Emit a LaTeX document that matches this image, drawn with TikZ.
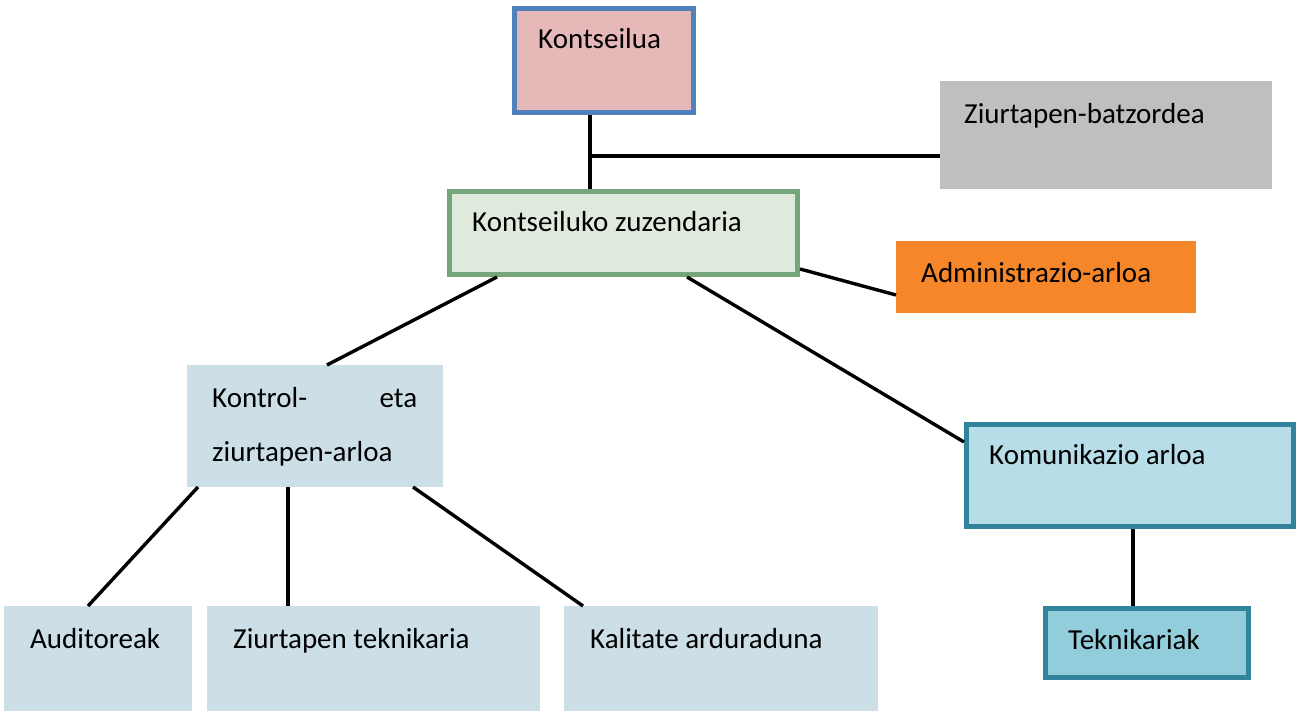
\documentclass[tikz,border=0pt]{standalone}
\usepackage{fontspec}
\setmainfont{Carlito}
\usetikzlibrary{calc}
\definecolor{konsfill}{HTML}{E6B9B8}
\definecolor{konsline}{HTML}{4F81BD}
\definecolor{zuzfill}{HTML}{DFEADC}
\definecolor{zuzline}{HTML}{77A57A}
\definecolor{grayfill}{HTML}{BFBFBF}
\definecolor{orangefill}{HTML}{F5872A}
\definecolor{paleblue}{HTML}{CCDFE6}
\definecolor{komfill}{HTML}{B7DDE8}
\definecolor{tekfill}{HTML}{92CDDC}
\definecolor{tealline}{HTML}{31849B}
\begin{document}
\begin{tikzpicture}[x=1pt,y=-1pt,
  box/.style={rectangle, inner sep=0pt, outer sep=0pt, anchor=north west},
  bbox/.style={rectangle, inner sep=0pt, outer sep=2.5pt, line width=5pt, anchor=north west},
  txt/.style={anchor=base west, inner sep=0pt, font=\fontsize{29}{35}\selectfont},
  conn/.style={line width=3.4pt, black}]
\useasboundingbox (0,0) rectangle (1296,711);
% boxes
\node[bbox, draw=konsline, fill=konsfill, minimum width=179pt, minimum height=104pt] (kons) at (512,6) {};
\node[box, fill=grayfill, minimum width=332pt, minimum height=108pt] (zb) at (940,81) {};
\node[bbox, draw=zuzline, fill=zuzfill, minimum width=348pt, minimum height=83pt] (zuz) at (447,189) {};
\node[box, fill=orangefill, minimum width=300pt, minimum height=72pt] (adm) at (896,241) {};
\node[box, fill=paleblue, minimum width=256pt, minimum height=122pt] (kc) at (187,365) {};
\node[bbox, draw=tealline, fill=komfill, minimum width=327pt, minimum height=102pt] (kom) at (964,422) {};
\node[bbox, draw=tealline, fill=tekfill, minimum width=203pt, minimum height=69pt] (tek) at (1043,606) {};
\node[box, fill=paleblue, minimum width=188pt, minimum height=105pt] (aud) at (4,606) {};
\node[box, fill=paleblue, minimum width=333pt, minimum height=105pt] (zt) at (207,606) {};
\node[box, fill=paleblue, minimum width=314pt, minimum height=105pt] (kal) at (564,606) {};
% texts
\node[txt] (tkons) at (538,49) {Kontseilua};
\node[txt] (tzb) at (964,124) {Ziurtapen-batzordea};
\node[txt] (tzuz) at (472,232) {Kontseiluko zuzendaria};
\node[txt] (tadm) at (921,283) {Administrazio-arloa};
\node[txt] (tkc1) at (212,407) {\hbox to 205pt{Kontrol-\hfill eta}};
\node[txt] (tkc2) at (212,461) {ziurtapen-arloa};
\node[txt] (tkom) at (989,464) {Komunikazio arloa};
\node[txt] (ttek) at (1068,649) {Teknikariak};
\node[txt] (taud) at (30,648) {Auditoreak};
\node[txt] (tzt) at (233,648) {Ziurtapen teknikaria};
\node[txt] (tkal) at (590,648) {Kalitate arduraduna};
% connectors
\coordinate (j) at ($(kons.south west)+(78,0)$);
\draw[conn] (j) -- (j |- zuz.north);
\coordinate (h) at ($(zb.south west)+(0,-33)$);
\draw[conn] (h) -- (h -| j);
\draw[conn] ($(zuz.north east)+(0,80)$) -- ($(adm.south west)+(0,-18)$);
\draw[conn] ($(zuz.south west)+(50,0)$) -- ($(kc.north west)+(140,0)$);
\draw[conn] ($(zuz.south west)+(240,0)$) -- ($(kom.north west)+(0,20)$);
\coordinate (k) at ($(kom.south west)+(169,0)$);
\draw[conn] (k) -- (k |- tek.north);
\draw[conn] ($(kc.south west)+(11,0)$) -- ($(aud.north west)+(84,0)$);
\coordinate (z) at ($(kc.south west)+(101,0)$);
\draw[conn] (z) -- (z |- zt.north);
\draw[conn] ($(kc.south west)+(226,0)$) -- ($(kal.north west)+(19,0)$);
\end{tikzpicture}
\end{document}
